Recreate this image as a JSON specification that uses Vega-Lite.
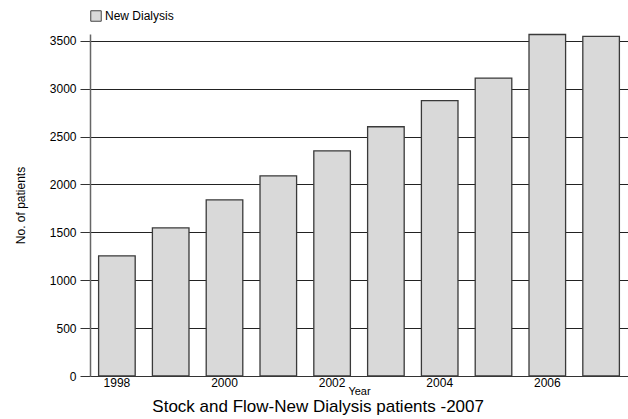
{
  "$schema": "https://vega.github.io/schema/vega-lite/v6.json",
  "width": 538,
  "height": 342,
  "autosize": {"type": "none"},
  "padding": {"left": 90, "top": 34, "right": 0, "bottom": 43},
  "background": "white",
  "config": {
    "font": "Liberation Sans",
    "view": {"stroke": null}
  },
  "title": {
    "text": "Stock and Flow-New Dialysis patients -2007",
    "orient": "bottom",
    "anchor": "middle",
    "frame": "bounds",
    "fontSize": 17,
    "fontWeight": "normal",
    "color": "#000",
    "offset": 3,
    "dx": -3
  },
  "data": {
    "values": [
      {"Year": 1998, "Patients": 1254, "Series": "New Dialysis"},
      {"Year": 1999, "Patients": 1546, "Series": "New Dialysis"},
      {"Year": 2000, "Patients": 1839, "Series": "New Dialysis"},
      {"Year": 2001, "Patients": 2090, "Series": "New Dialysis"},
      {"Year": 2002, "Patients": 2351, "Series": "New Dialysis"},
      {"Year": 2003, "Patients": 2602, "Series": "New Dialysis"},
      {"Year": 2004, "Patients": 2875, "Series": "New Dialysis"},
      {"Year": 2005, "Patients": 3110, "Series": "New Dialysis"},
      {"Year": 2006, "Patients": 3565, "Series": "New Dialysis"},
      {"Year": 2007, "Patients": 3545, "Series": "New Dialysis"}
    ]
  },
  "mark": {"type": "bar", "stroke": "#3a3a3a", "strokeWidth": 1.3},
  "encoding": {
    "x": {
      "field": "Year",
      "type": "ordinal",
      "scale": {"paddingInner": 0.32, "paddingOuter": 0.16},
      "axis": {
        "values": [1998, 2000, 2002, 2004, 2006],
        "labelAngle": 0,
        "labelFontSize": 12,
        "labelColor": "#000",
        "labelPadding": 1,
        "ticks": false,
        "domainColor": "#333",
        "title": "Year",
        "titleFontSize": 11,
        "titleFontWeight": "normal",
        "titleColor": "#000",
        "titlePadding": -3
      }
    },
    "y": {
      "field": "Patients",
      "type": "quantitative",
      "scale": {"domain": [0, 3570], "nice": false},
      "axis": {
        "values": [0, 500, 1000, 1500, 2000, 2500, 3000, 3500],
        "format": "d",
        "labelFontSize": 12,
        "labelColor": "#000",
        "tickSize": 10,
        "tickColor": "#333",
        "labelPadding": 4,
        "grid": true,
        "gridColor": "#222",
        "gridOpacity": 1,
        "domainColor": "#666",
        "domainWidth": 1.5,
        "title": "No. of patients",
        "titleFontSize": 12,
        "titleFontWeight": "normal",
        "titleColor": "#000",
        "titlePadding": 22
      }
    },
    "fill": {
      "field": "Series",
      "type": "nominal",
      "scale": {"range": ["#d9d9d9"]},
      "legend": {
        "title": null,
        "orient": "none",
        "legendX": 0,
        "legendY": -24,
        "symbolType": "square",
        "symbolSize": 110,
        "symbolStrokeColor": "#444",
        "symbolStrokeWidth": 1,
        "labelFontSize": 12,
        "labelColor": "#000",
        "labelOffset": 3
      }
    }
  }
}
